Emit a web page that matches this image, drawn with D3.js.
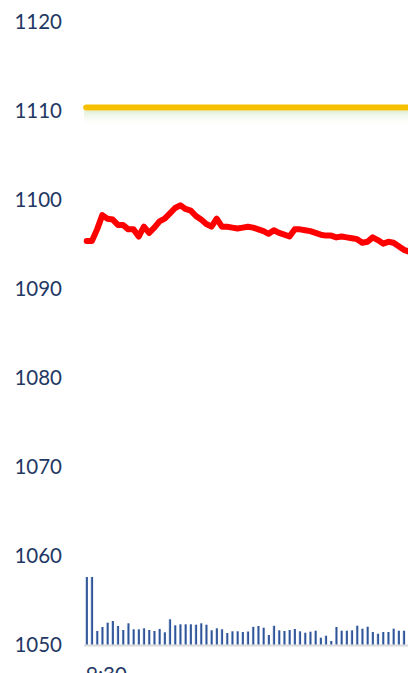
<!DOCTYPE html>
<html>
<head>
<meta charset="utf-8">
<script src="https://cdn.jsdelivr.net/npm/d3@7"></script>
<style>
  html, body { margin: 0; padding: 0; background: #fff; overflow: hidden; }
  svg { display: block; }
</style>
</head>
<body>
<div id="chart"></div>
<script>
// price per minute (red line)
const prices = [
  1095.4, 1095.4, 1096.7, 1098.3, 1097.9, 1097.8, 1097.2, 1097.2, 1096.7, 1096.7,
  1095.9, 1097.0, 1096.3, 1096.9, 1097.6, 1097.9, 1098.5, 1099.1, 1099.4, 1099.0,
  1098.8, 1098.2, 1097.8, 1097.3, 1097.0, 1097.9, 1097.0, 1097.0, 1096.9, 1096.8,
  1096.9, 1097.0, 1096.9, 1096.7, 1096.5, 1096.2, 1096.6, 1096.3, 1096.1, 1095.9,
  1096.7, 1096.7, 1096.6, 1096.5, 1096.3, 1096.1, 1096.0, 1096.0, 1095.8, 1095.9,
  1095.8, 1095.7, 1095.6, 1095.2, 1095.3, 1095.8, 1095.5, 1095.1, 1095.3, 1095.2,
  1094.8, 1094.4, 1094.2
];

// volume bars
const volumes = [
  680, 680, 140, 180, 223, 240, 190, 150, 217, 157,
  157, 167, 150, 140, 160, 127, 257, 197, 207, 207,
  207, 203, 217, 203, 147, 167, 157, 120, 137, 137,
  130, 135, 182, 190, 173, 100, 192, 147, 140, 150,
  160, 137, 123, 133, 143, 73, 93, 40, 180, 143,
  143, 147, 193, 163, 183, 130, 113, 130, 130, 163,
  143, 143
];

// flat reference level (yellow)
const refLevel = 1110.4;

const yTicks = [1050, 1060, 1070, 1080, 1090, 1100, 1110, 1120];
const timeLabels = ['9:30'];

const width = 408, height = 673;

const svg = d3.select('#chart').append('svg')
  .attr('width', width)
  .attr('height', height);

const defs = svg.append('defs');

const barGrad = defs.append('linearGradient')
  .attr('id', 'barGrad')
  .attr('x1', '0%').attr('x2', '100%')
  .attr('y1', '0%').attr('y2', '0%');
barGrad.append('stop').attr('offset', '0%').attr('stop-color', '#9fb6df');
barGrad.append('stop').attr('offset', '45%').attr('stop-color', '#2f5597');
barGrad.append('stop').attr('offset', '100%').attr('stop-color', '#2f5597');

const glowGrad = defs.append('linearGradient')
  .attr('id', 'glowGrad')
  .attr('x1', '0%').attr('x2', '0%')
  .attr('y1', '0%').attr('y2', '100%');
glowGrad.append('stop').attr('offset', '0%').attr('stop-color', '#dcedd0').attr('stop-opacity', 0.9);
glowGrad.append('stop').attr('offset', '100%').attr('stop-color', '#ffffff').attr('stop-opacity', 0);

// scales
const x = d3.scaleLinear()
  .domain([0, volumes.length - 1])
  .range([86.7, 403.9]);

const y = d3.scaleLinear()
  .domain([1050, 1120])
  .range([645, 22]);

const yVol = d3.scaleLinear()
  .domain([0, 1000])
  .range([645, 545]);

// y labels
svg.append('g')
  .selectAll('text')
  .data(yTicks)
  .join('text')
  .attr('x', 62)
  .attr('y', d => y(d))
  .attr('dy', '0.36em')
  .attr('text-anchor', 'end')
  .style('font-family', 'Lato, "Open Sans", sans-serif')
  .style('font-size', '20.5px')
  .style('fill', '#1f3864')
  .text(d => d);

// baseline
svg.append('line')
  .attr('x1', 84)
  .attr('x2', width)
  .attr('y1', y(1050) + 0.5)
  .attr('y2', y(1050) + 0.5)
  .attr('stroke', '#d9d9d9')
  .attr('stroke-width', 2);

// volume bars
svg.append('g')
  .selectAll('rect')
  .data(volumes)
  .join('rect')
  .attr('x', (d, i) => x(i) - 1.2)
  .attr('width', 2.4)
  .attr('y', d => yVol(d))
  .attr('height', d => yVol(0) - yVol(d) - 0.5)
  .attr('fill', 'url(#barGrad)');

// soft glow under yellow line
svg.append('rect')
  .attr('x', 84)
  .attr('width', width - 84)
  .attr('y', y(refLevel) + 3)
  .attr('height', 17)
  .attr('fill', 'url(#glowGrad)');

// yellow reference line
svg.append('line')
  .attr('x1', x(0) - 0.5)
  .attr('x2', width + 10)
  .attr('y1', y(refLevel))
  .attr('y2', y(refLevel))
  .attr('stroke', '#f6c000')
  .attr('stroke-width', 6)
  .attr('stroke-linecap', 'round');

// price line
const line = d3.line()
  .x((d, i) => x(i))
  .y(d => y(d));

svg.append('path')
  .datum(prices)
  .attr('d', line)
  .attr('fill', 'none')
  .attr('stroke', '#ff0000')
  .attr('stroke-width', 6)
  .attr('stroke-linejoin', 'round')
  .attr('stroke-linecap', 'round');

// time label (cut off at the bottom in the original)
svg.append('text')
  .attr('x', 86)
  .attr('y', 682)
  .style('font-family', 'Lato, "Open Sans", sans-serif')
  .style('font-size', '20.5px')
  .style('fill', '#1f3864')
  .text(timeLabels[0]);
</script>
</body>
</html>
